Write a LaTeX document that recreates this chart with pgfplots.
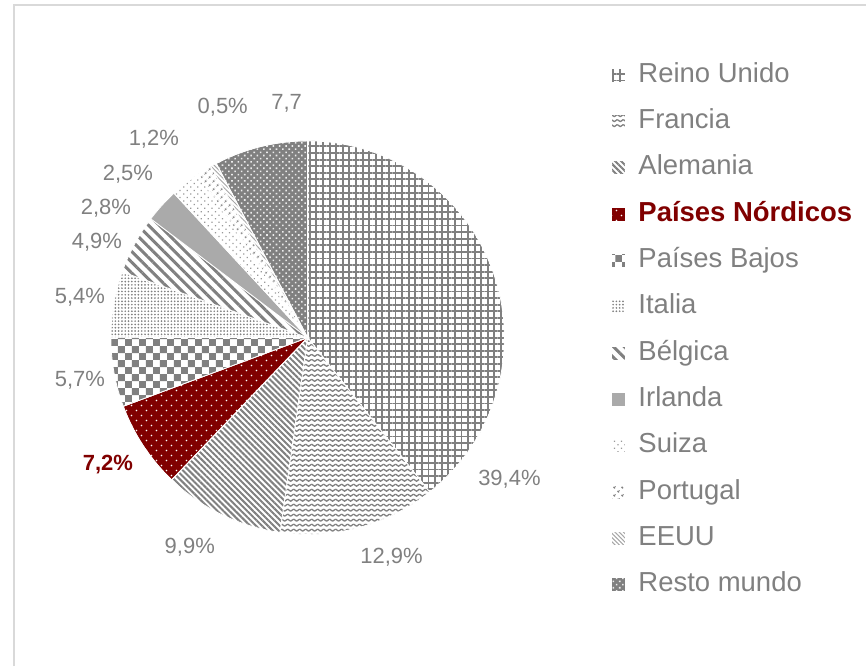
\documentclass[border=0pt]{standalone}
\usepackage{pgfplots}
\pgfplotsset{compat=1.18}
\usetikzlibrary{patterns,patterns.meta}
\usepackage{fontspec}
\setmainfont{Liberation Sans}
\definecolor{labgray}{RGB}{128,128,128}
\definecolor{patgray}{RGB}{128,128,128}
\definecolor{nordred}{RGB}{128,0,0}
\definecolor{framegray}{RGB}{217,217,217}

\tikzdeclarepattern{
  name=zigzag, type=uncolored,
  bounding box={(-1bp,0bp) and (7bp,5bp)},
  tile size={(6bp,5bp)},
  code={\draw[line width=1.3bp,line join=round] (0bp,3.3bp) -- (3bp,1.2bp) -- (6bp,3.3bp);}
}
\tikzdeclarepattern{
  name=checker, type=uncolored,
  bounding box={(0bp,0bp) and (14bp,14bp)},
  tile size={(14bp,14bp)},
  code={\fill (0bp,0bp) rectangle (7bp,7bp); \fill (7bp,7bp) rectangle (14bp,14bp);}
}
\tikzdeclarepattern{
  name=stagdots, type=uncolored,
  bounding box={(0bp,0bp) and (10bp,10bp)},
  tile size={(10bp,10bp)},
  code={\fill (2.5bp,2.5bp) circle (0.8bp); \fill (7.5bp,7.5bp) circle (0.8bp);}
}

% data (percent)
\pgfmathsetmacro\tot{39.4+12.9+9.9+7.2+5.7+5.4+4.9+2.8+2.5+1.2+0.5+7.7}
\pgfmathsetmacro\aA{0}
\pgfmathsetmacro\aB{\aA+360*39.4/\tot}
\pgfmathsetmacro\aC{\aB+360*12.9/\tot}
\pgfmathsetmacro\aD{\aC+360*9.9/\tot}
\pgfmathsetmacro\aE{\aD+360*7.2/\tot}
\pgfmathsetmacro\aF{\aE+360*5.7/\tot}
\pgfmathsetmacro\aG{\aF+360*5.4/\tot}
\pgfmathsetmacro\aH{\aG+360*4.9/\tot}
\pgfmathsetmacro\aI{\aH+360*2.8/\tot}
\pgfmathsetmacro\aJ{\aI+360*2.5/\tot}
\pgfmathsetmacro\aK{\aJ+360*1.2/\tot}
\pgfmathsetmacro\aL{\aK+360*0.5/\tot}
\pgfmathsetmacro\aM{\aL+360*7.7/\tot}

\newcommand{\slice}[3]{\addplot[no markers, draw=white, line width=0.8bp, #1, domain=#2:#3, samples=80] ({308+197*sin(x)},{338-197*cos(x)}) -- (axis cs:308,338) -- cycle;}

\begin{document}
\begin{tikzpicture}
\begin{axis}[
  scale only axis, width=867bp, height=667bp,
  xmin=0, xmax=867, ymin=0, ymax=667, y dir=reverse,
  hide axis, clip=false,
  legend cell align=left,
  legend image code/.code={\draw[#1, line width=0pt] (0bp,-7bp) rectangle (14bp,7bp);},
  legend style={at={(axis cs:612,62)}, anchor=north west, draw=none, fill=none,
    inner sep=0pt, row sep=20.4bp, column sep=13bp,
    font=\fontsize{27.5bp}{33bp}\selectfont, text=labgray,
    nodes={text height=20bp, text depth=6bp, inner sep=0pt}},
]
\slice{pattern={Hatch[distance=6.6bp, angle=0, line width=1.9bp]}, pattern color=patgray}{\aA}{\aB}
\addlegendentry{Reino Unido}
\slice{pattern=zigzag, pattern color=patgray}{\aB}{\aC}
\addlegendentry{Francia}
\slice{pattern={Lines[distance=4.2bp, angle=-45, line width=2bp]}, pattern color=patgray}{\aC}{\aD}
\addlegendentry{Alemania}
\slice{fill=nordred, postaction={pattern=stagdots, pattern color=white}}{\aD}{\aE}
\addlegendentry{\textcolor{nordred}{\bfseries Países Nórdicos}}
\slice{pattern=checker, pattern color=patgray}{\aE}{\aF}
\addlegendentry{Países Bajos}
\slice{pattern={Dots[distance=3.3bp, radius=0.95bp]}, pattern color=patgray}{\aF}{\aG}
\addlegendentry{Italia}
\slice{pattern={Lines[distance=7.6bp, angle=-45, line width=3bp]}, pattern color=patgray}{\aG}{\aH}
\addlegendentry{Bélgica}
\slice{fill={rgb,255:red,170;green,170;blue,170}}{\aH}{\aI}
\addlegendentry{Irlanda}
\slice{pattern={Dots[distance=5bp, radius=0.9bp, angle=45]}, pattern color=patgray!80}{\aI}{\aJ}
\addlegendentry{Suiza}
\slice{pattern={Dots[distance=6bp, radius=1.6bp, angle=45]}, pattern color=patgray}{\aJ}{\aK}
\addlegendentry{Portugal}
\slice{pattern={Lines[distance=3bp, angle=-45, line width=1bp]}, pattern color=patgray!70}{\aK}{\aL}
\addlegendentry{EEUU}
\slice{fill=patgray, postaction={pattern={Dots[distance=4.5bp, radius=1.1bp, angle=45]}, pattern color=white!85!patgray}}{\aL}{\aM}
\addlegendentry{Resto mundo}

\draw[framegray, line width=2bp] (axis cs:14,667) -- (axis cs:14,5) -- (axis cs:867,5);
\path (axis cs:0,0) rectangle (axis cs:867,667);

\begin{scope}[every node/.style={font=\fontsize{22bp}{26bp}\selectfont, text=labgray}]
\node at (axis cs:510,480) {39,4\%};
\node at (axis cs:392,558) {12,9\%};
\node at (axis cs:190,548) {9,9\%};
\node[text=nordred, font=\fontsize{22bp}{26bp}\selectfont\bfseries] at (axis cs:108,465) {7,2\%};
\node at (axis cs:80,381) {5,7\%};
\node at (axis cs:80,298) {5,4\%};
\node at (axis cs:97,243) {4,9\%};
\node at (axis cs:106,208) {2,8\%};
\node at (axis cs:128,174) {2,5\%};
\node at (axis cs:154,139) {1,2\%};
\node at (axis cs:223,107) {0,5\%};
\node at (axis cs:287,103) {7,7};
\end{scope}
\end{axis}
\end{tikzpicture}
\end{document}
